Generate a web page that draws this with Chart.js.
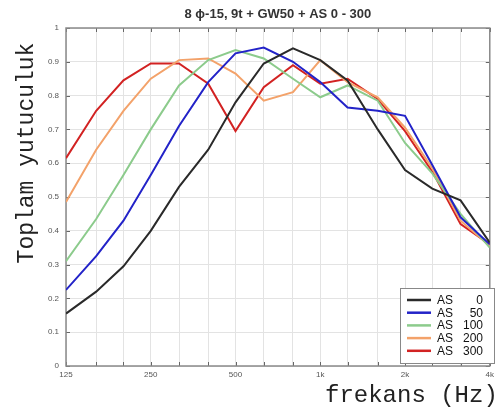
<!DOCTYPE html>
<html><head><meta charset="utf-8">
<script src="https://cdn.jsdelivr.net/npm/chart.js@4.4.1/dist/chart.umd.min.js"></script>
<style>html,body{margin:0;padding:0;background:#fff;overflow:hidden}</style>
</head><body>
<canvas id="c" width="498" height="411" style="width:498px;height:411px;display:block"></canvas>
<script>
// ---- data ----
const frequencies = [125,160,200,250,315,400,500,630,800,1000,1250,1600,2000,2500,3150,4000];
const as0   = [0.155,0.220,0.295,0.400,0.530,0.640,0.780,0.895,0.940,0.905,0.845,0.700,0.580,0.525,0.490,0.365];
const as50  = [0.225,0.325,0.430,0.565,0.710,0.840,0.925,0.942,0.900,0.840,0.765,0.755,0.740,0.595,0.440,0.360];
const as100 = [0.310,0.435,0.565,0.700,0.830,0.905,0.935,0.910,0.850,0.795,0.830,0.785,0.660,0.570,0.450,0.350];
const as200 = [0.485,0.640,0.755,0.850,0.905,0.910,0.865,0.785,0.810,0.905,0.840,0.795,0.705,0.585,0.430,0.355];
const as300 = [0.615,0.755,0.845,0.895,0.895,0.835,0.695,0.825,0.890,0.835,0.850,0.790,0.695,0.575,0.420,0.360];
const seriesLabels = ['AS 0','AS 50','AS 100','AS 200','AS 300'];
const seriesColors = ['#2a2a2a','#2323c8','#8ccb8c','#f3a26a','#d22222'];
const xTickLabels = {125:'125',250:'250',500:'500',1000:'1k',2000:'2k',4000:'4k'};
const titleText = '8 \u03D5-15, 9t + GW50 + AS 0 - 300';
const xTitle = 'frekans (Hz)';
const yTitle = 'Toplam yutuculuk';

const allSeries = [as0, as50, as100, as200, as300];

const framePlugin = {
  id: 'frame',
  beforeDatasetsDraw(chart) {
    const {ctx, chartArea: a, scales} = chart;
    ctx.save();
    ctx.strokeStyle = '#666';
    ctx.lineWidth = 1;
    ctx.beginPath();
    frequencies.forEach(f => {
      const x = Math.round(scales.x.getPixelForValue(f)) + 0.5;
      ctx.moveTo(x, a.top); ctx.lineTo(x, a.top + 4);
      ctx.moveTo(x, a.bottom); ctx.lineTo(x, a.bottom - 4);
    });
    for (let v = 0; v <= 10; v++) {
      const y = Math.round(scales.y.getPixelForValue(v / 10)) + 0.5;
      ctx.moveTo(a.left, y); ctx.lineTo(a.left + 4, y);
      ctx.moveTo(a.right, y); ctx.lineTo(a.right - 4, y);
    }
    ctx.stroke();
    ctx.strokeStyle = '#8a8a8a';
    ctx.lineWidth = 1.5;
    ctx.strokeRect(a.left, a.top, a.right - a.left, a.bottom - a.top);
    ctx.restore();
  },
  afterDraw(chart) {
    const {ctx} = chart;
    ctx.save();
    // axis titles
    ctx.fillStyle = '#222';
    ctx.font = '24px "Liberation Mono", "DejaVu Sans Mono", monospace';
    ctx.textAlign = 'left';
    ctx.textBaseline = 'alphabetic';
    ctx.fillText(xTitle, 325, 402);
    ctx.save();
    ctx.translate(33, 153);
    ctx.rotate(-Math.PI / 2);
    ctx.font = '23px "Liberation Mono", "DejaVu Sans Mono", monospace';
    ctx.textAlign = 'center';
    ctx.fillText(yTitle, 0, 0);
    ctx.restore();
    // legend
    const bx = 400, by = 288, bw = 94, bh = 75;
    ctx.fillStyle = '#fff';
    ctx.fillRect(bx, by, bw, bh);
    ctx.strokeStyle = '#888';
    ctx.lineWidth = 1;
    ctx.strokeRect(bx + 0.5, by + 0.5, bw, bh);
    chart.data.datasets.forEach((ds, i) => {
      const y = by + 12 + i * 12.7;
      ctx.strokeStyle = ds.borderColor;
      ctx.lineWidth = 2.5;
      ctx.beginPath(); ctx.moveTo(407, y); ctx.lineTo(431, y); ctx.stroke();
      const parts = ds.label.split(' ');
      ctx.fillStyle = '#111';
      ctx.font = '12px "Liberation Sans", Arial, sans-serif';
      ctx.textBaseline = 'middle';
      ctx.textAlign = 'left';
      ctx.fillText(parts[0], 437, y + 0.5);
      ctx.textAlign = 'right';
      ctx.fillText(parts[1], 483, y + 0.5);
    });
    ctx.restore();
  }
};

new Chart(document.getElementById('c'), {
  type: 'line',
  data: {
    datasets: allSeries.map((s, i) => ({
      label: seriesLabels[i],
      data: frequencies.map((f, j) => ({x: f, y: s[j]})),
      borderColor: seriesColors[i],
      backgroundColor: seriesColors[i],
      borderWidth: 2,
      pointRadius: 0,
      tension: 0,
      fill: false
    }))
  },
  options: {
    responsive: false,
    animation: false,
    devicePixelRatio: 1,
    layout: {padding: {left: 0, right: 2, top: 0, bottom: 0}, autoPadding: false},
    plugins: {
      legend: {display: false},
      tooltip: {enabled: false},
      title: {
        display: true, text: titleText, fullSize: false,
        font: {family: '"Liberation Sans", Arial, sans-serif', size: 13, weight: 'bold'},
        color: '#333', padding: {top: 7, bottom: 5.4}
      }
    },
    scales: {
      x: {
        type: 'logarithmic', min: 125, max: 4000,
        afterBuildTicks: s => { s.ticks = frequencies.map(v => ({value: v})); },
        afterFit: s => { s.height = 45; },
        grid: {color: '#e3e3e3', drawTicks: false},
        border: {display: false},
        ticks: {autoSkip: false, maxRotation: 0, minRotation: 0, padding: 4,
          font: {family: '"Liberation Sans", Arial, sans-serif', size: 8}, color: '#555',
          callback: v => xTickLabels[v] || ''}
      },
      y: {
        min: 0, max: 1,
        afterFit: s => { s.width = 66; },
        grid: {color: '#e3e3e3', drawTicks: false},
        border: {display: false},
        ticks: {stepSize: 0.1, padding: 7,
          font: {family: '"Liberation Sans", Arial, sans-serif', size: 8}, color: '#555',
          callback: v => String(Math.round(v * 10) / 10)}
      }
    }
  },
  plugins: [framePlugin]
});
</script>
</body></html>
